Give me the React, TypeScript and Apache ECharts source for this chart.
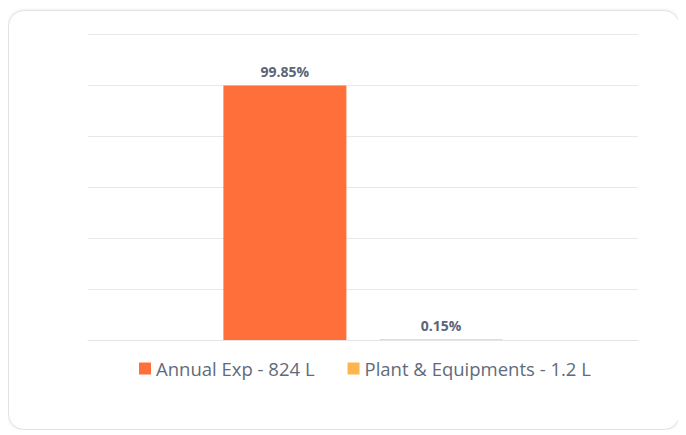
import React, { useEffect, useRef } from "react";
import * as echarts from "echarts";

const categories = [""];
const seriesNames = ["Annual Exp - 824 L", "Plant & Equipments - 1.2 L"];
const seriesValues = [99.85, 0.15];
const seriesColors = ["#FF6F3A", "#FFB54D"];

export default function App() {
  const ref = useRef<HTMLDivElement>(null);
  useEffect(() => {
    if (!ref.current) return;
    const chart = echarts.init(ref.current, undefined, { renderer: "svg" });
    chart.setOption({
      animation: false,
      textStyle: { fontFamily: "Open Sans" },
      grid: { left: 79, top: 23, width: 550, height: 306 },
      legend: {
        data: seriesNames,
        top: 343,
        left: 125,
        icon: "rect",
        itemWidth: 12,
        itemHeight: 12,
        itemGap: 33,
        textStyle: { fontSize: 18.5, color: "#5f6b7b", fontFamily: "Open Sans" },
      },
      xAxis: {
        type: "category",
        data: categories,
        axisLine: { show: true, lineStyle: { color: "#e4e4e4" } },
        axisTick: { show: false },
        axisLabel: { show: false },
      },
      yAxis: {
        type: "value",
        min: 0,
        max: 120,
        interval: 20,
        axisLabel: { show: false },
        axisLine: { show: false },
        axisTick: { show: false },
        splitLine: { lineStyle: { color: "#e8e8e8" } },
      },
      series: seriesNames.map((name, i) => ({
        name,
        type: "bar",
        data: [seriesValues[i]],
        barWidth: 123,
        barGap: "27%",
        itemStyle: { color: seriesColors[i] },
        label: {
          show: true,
          position: "top",
          distance: 7,
          formatter: "{c}%",
          fontSize: 14,
          fontWeight: "bold",
          color: "#5b6578",
          fontFamily: "Open Sans",
        },
      })),
    });
    return () => chart.dispose();
  }, []);
  return (
    <div
      style={{
        width: 670,
        height: 418,
        marginTop: 2,
        border: "1px solid #e2e2e2",
        borderRadius: 16,
        boxShadow: "0 0 4px rgba(0,0,0,0.08)",
        background: "#fff",
      }}
    >
      <div ref={ref} style={{ width: 670, height: 418 }} />
    </div>
  );
}
